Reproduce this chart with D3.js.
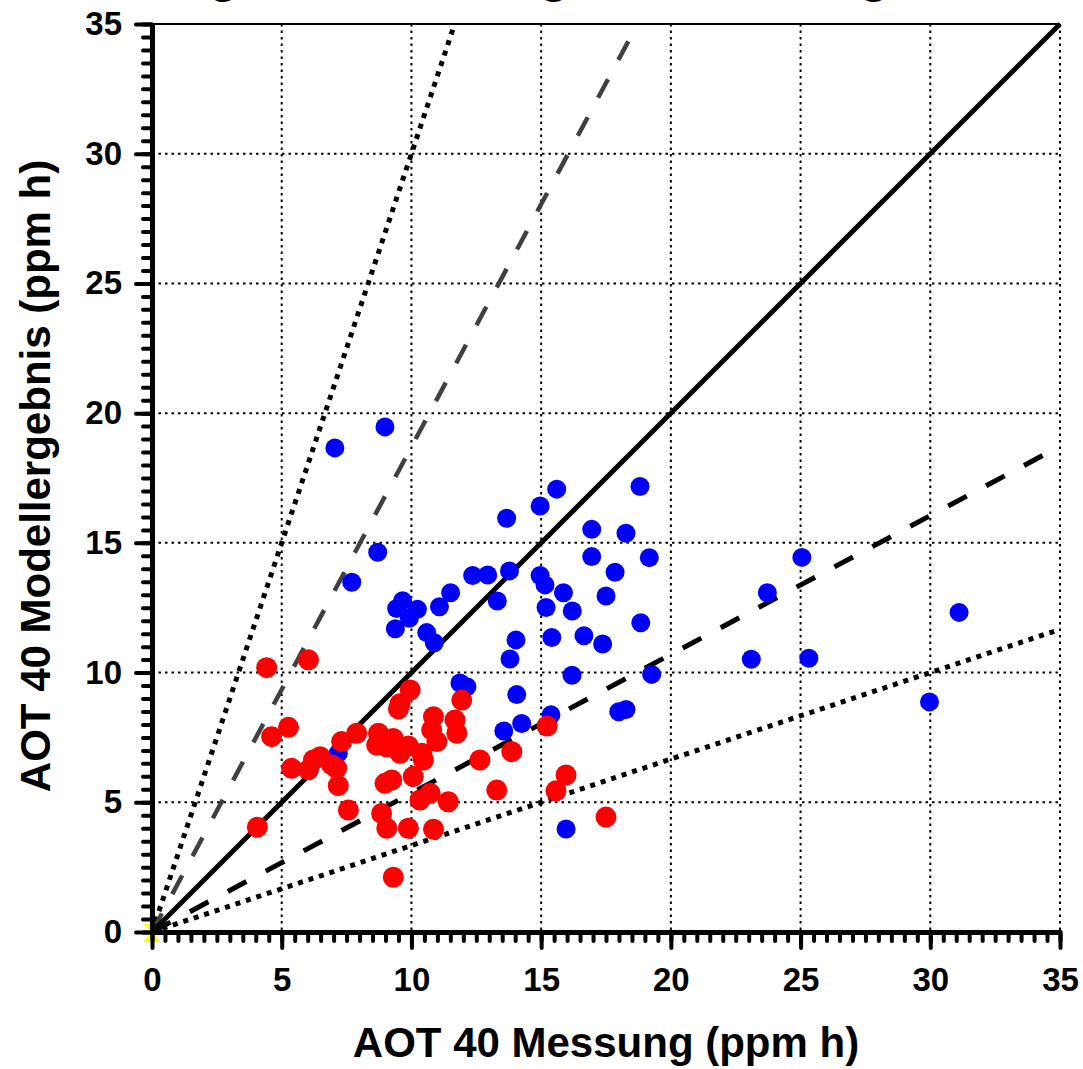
<!DOCTYPE html>
<html>
<head>
<meta charset="utf-8">
<script src="https://cdn.jsdelivr.net/npm/d3@7"></script>
<style>
  body { margin: 0; background: #fff; }
  text { font-family: "Liberation Sans", Arial, sans-serif; font-weight: bold; }
</style>
</head>
<body>
<div id="chart"></div>
<script>
// data (ppm h)
let blueX = [7.05, 8.98, 15.60, 18.81, 14.96, 13.67, 16.95, 18.27, 8.70, 16.95, 19.17, 7.70, 12.36, 12.94,
  13.78, 14.96, 15.15, 17.85, 15.86, 17.50, 11.51, 9.66, 9.43, 10.23, 9.92, 11.08, 13.31, 15.19, 16.20,
  9.38, 10.59, 10.88, 14.03, 15.41, 16.65, 17.37, 18.84, 13.80, 16.19, 19.26, 11.87, 12.14, 14.06, 17.99,
  18.27, 15.38, 14.25, 13.56, 25.05, 23.72, 23.10, 25.32, 31.11, 29.97, 15.96, 7.18];
let blueY = [18.66, 19.47, 17.07, 17.17, 16.42, 15.95, 15.52, 15.37, 14.64, 14.47, 14.43, 13.48, 13.74, 13.76,
  13.92, 13.74, 13.38, 13.87, 13.08, 12.95, 13.08, 12.77, 12.47, 12.44, 12.09, 12.54, 12.76, 12.51, 12.37,
  11.69, 11.54, 11.15, 11.26, 11.35, 11.42, 11.10, 11.92, 10.52, 9.90, 9.93, 9.60, 9.45, 9.15, 8.49,
  8.58, 8.37, 8.04, 7.75, 14.44, 13.08, 10.51, 10.55, 12.32, 8.87, 3.97, 6.89];

let redX = [4.42, 6.03, 9.95, 9.56, 9.50, 4.61, 5.26, 5.38, 6.03, 6.22, 6.48, 6.93, 7.12, 7.18, 7.31, 7.89,
  7.57, 4.06, 8.73, 8.66, 9.30, 9.05, 9.56, 9.88, 10.40, 10.46, 10.85, 10.78, 10.98, 11.68, 11.75, 11.94,
  8.98, 9.24, 10.07, 10.33, 10.72, 11.42, 8.85, 9.05, 9.88, 10.85, 9.30, 12.64, 13.29, 13.87, 15.23,
  15.57, 15.96, 17.50];
let redY = [10.19, 10.49, 9.33, 8.80, 8.60, 7.53, 7.89, 6.31, 6.25, 6.63, 6.76, 6.44, 6.31, 5.64, 7.34, 7.66,
  4.70, 4.04, 7.66, 7.21, 7.46, 7.14, 6.89, 7.17, 6.89, 6.63, 8.30, 7.79, 7.34, 8.17, 7.66, 8.94,
  5.73, 5.86, 5.99, 5.09, 5.35, 5.02, 4.57, 4.00, 4.00, 3.96, 2.11, 6.63, 5.47, 6.95, 7.94,
  5.44, 6.05, 4.43];

// ratio lines model = f * measurement
let refFactors = [3, 1.87, 1, 0.535, 1 / 3];

let originX = [0];
let originY = [0];

let majorTicks = [0, 5, 10, 15, 20, 25, 30, 35];

let width = 1083;
let height = 1069;
let maxVal = 35;

let x = d3.scaleLinear().domain([0, maxVal]).range([152, 1060]);
let y = d3.scaleLinear().domain([0, maxVal]).range([932, 24]);

let svg = d3.select("#chart")
  .append("svg")
  .attr("width", width)
  .attr("height", height);

// title, cut off at the top like in the original (only descenders show)
svg.append("text")
  .attr("x", 134)
  .attr("y", -8)
  .style("font-size", "48px")
  .text("Vergleich Messung vs. Modellergebnis");

// dotted grid
let grid = svg.append("g");
grid.selectAll("line.v")
  .data(majorTicks.slice(1))
  .enter().append("line")
  .attr("x1", d => x(d)).attr("x2", d => x(d))
  .attr("y1", y(maxVal)).attr("y2", y(0))
  .attr("stroke", "#000").attr("stroke-width", 2)
  .attr("stroke-dasharray", "2.5,4");
grid.selectAll("line.h")
  .data(majorTicks.slice(1, -1))
  .enter().append("line")
  .attr("y1", d => y(d)).attr("y2", d => y(d))
  .attr("x1", x(0)).attr("x2", x(maxVal))
  .attr("stroke", "#000").attr("stroke-width", 2)
  .attr("stroke-dasharray", "2.5,4");

// top frame
svg.append("line")
  .attr("x1", x(0)).attr("x2", x(maxVal))
  .attr("y1", y(maxVal)).attr("y2", y(maxVal))
  .attr("stroke", "#000").attr("stroke-width", 2);

// yellow marker at the origin (sits under the axes)
svg.selectAll("path.origin")
  .data(originX.map((d, i) => [d, originY[i]]))
  .enter().append("path")
  .attr("transform", d => "translate(" + x(d[0]) + "," + y(d[1]) + ")")
  .attr("d", "M-9,-8L9,-8L0,0ZM-9,10L9,10L0,0Z")
  .attr("fill", "#ffff00");

// ratio lines
let lineStyles = [
  { color: "#000", width: 5, dash: "5,6" },
  { color: "#404040", width: 4.5, dash: "21,22" },
  { color: "#000", width: 5, dash: null },
  { color: "#000", width: 5, dash: "21,22" },
  { color: "#000", width: 5, dash: "5,6" }
];
let line = d3.line().x(d => x(d[0])).y(d => y(d[1]));
svg.selectAll("path.ref")
  .data(refFactors)
  .enter().append("path")
  .attr("d", f => {
    let xe = Math.min(maxVal, maxVal / f);
    return line([[0, 0], [xe, xe * f]]);
  })
  .attr("fill", "none")
  .attr("stroke", (f, i) => lineStyles[i].color)
  .attr("stroke-width", (f, i) => lineStyles[i].width)
  .attr("stroke-dasharray", (f, i) => lineStyles[i].dash);

// axes
let minorTicks = d3.range(0, maxVal + 0.01, 0.5);

function styleAxis(g) {
  g.select(".domain").attr("stroke-width", 5).attr("stroke", "#000");
  g.selectAll(".tick line").attr("stroke-width", 4).attr("stroke-linecap", "round");
  g.selectAll("text").style("font-size", "33px").attr("fill", "#000");
}

svg.append("g")
  .attr("transform", "translate(0," + y(0) + ")")
  .call(d3.axisBottom(x).tickValues(minorTicks).tickSize(9).tickSizeOuter(0).tickFormat(""))
  .call(styleAxis);
svg.append("g")
  .attr("transform", "translate(0," + y(0) + ")")
  .call(d3.axisBottom(x).tickValues(majorTicks).tickSize(16).tickSizeOuter(0).tickPadding(20).tickFormat(d3.format("d")))
  .call(styleAxis);

svg.append("g")
  .attr("transform", "translate(" + x(0) + ",0)")
  .call(d3.axisLeft(y).tickValues(minorTicks).tickSize(9).tickSizeOuter(0).tickFormat(""))
  .call(styleAxis);
svg.append("g")
  .attr("transform", "translate(" + x(0) + ",0)")
  .call(d3.axisLeft(y).tickValues(majorTicks).tickSize(16).tickSizeOuter(0).tickPadding(14).tickFormat(d3.format("d")))
  .call(styleAxis);

// points
svg.selectAll("circle.blue")
  .data(blueX.map((d, i) => [d, blueY[i]]))
  .enter().append("circle")
  .attr("cx", d => x(d[0]))
  .attr("cy", d => y(d[1]))
  .attr("r", 9.5)
  .attr("fill", "#0000ff");

svg.selectAll("circle.red")
  .data(redX.map((d, i) => [d, redY[i]]))
  .enter().append("circle")
  .attr("cx", d => x(d[0]))
  .attr("cy", d => y(d[1]))
  .attr("r", 10.5)
  .attr("fill", "#ff0000");

// axis titles
svg.append("text")
  .attr("x", 606)
  .attr("y", 1057)
  .attr("text-anchor", "middle")
  .style("font-size", "42px")
  .text("AOT 40 Messung (ppm h)");

svg.append("text")
  .attr("transform", "translate(50,476) rotate(-90)")
  .attr("text-anchor", "middle")
  .style("font-size", "42px")
  .text("AOT 40 Modellergebnis (ppm h)");
</script>
</body>
</html>
